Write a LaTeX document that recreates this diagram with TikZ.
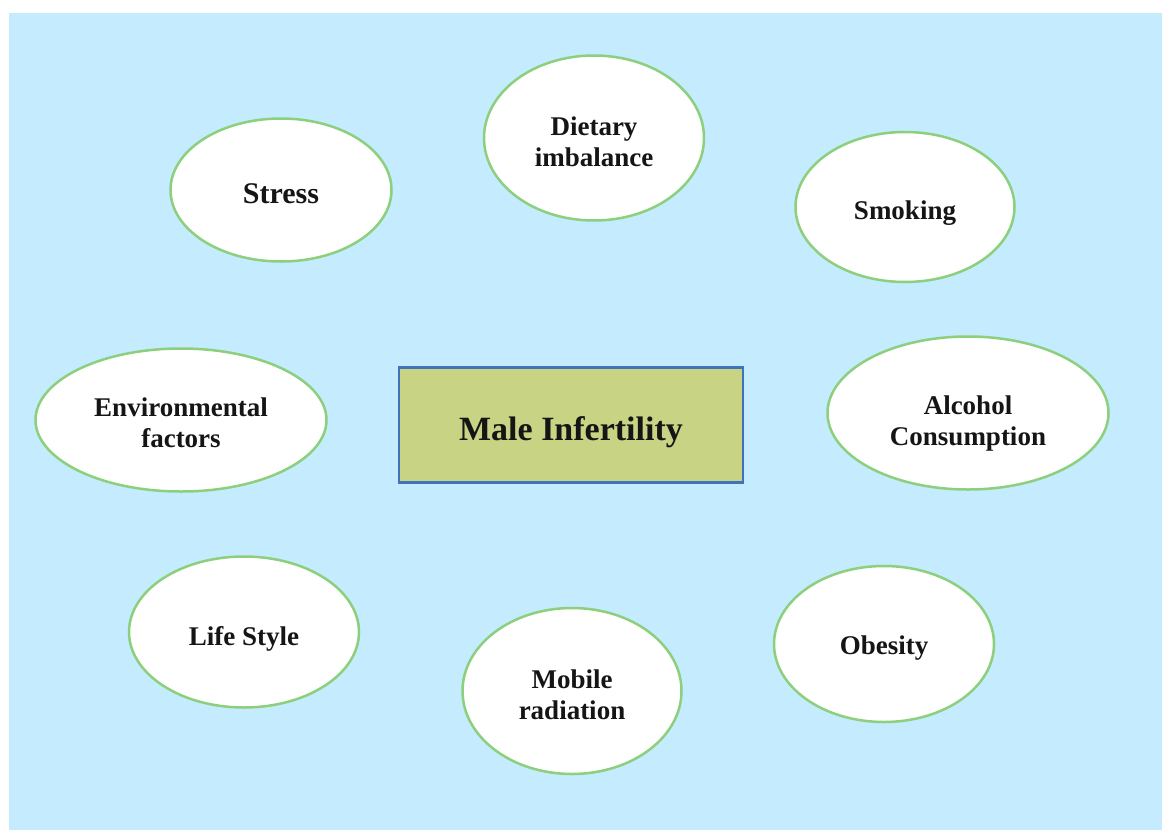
\documentclass[tikz,border=0pt]{standalone}
\usepackage{fontspec}
\setmainfont{Liberation Serif}
\usepackage{xcolor}
\usetikzlibrary{shapes.geometric,positioning}
\definecolor{skybg}{HTML}{C4ECFE}
\definecolor{leafgreen}{HTML}{8CCF7C}
\definecolor{olivebox}{HTML}{C8D484}
\definecolor{boxblue}{HTML}{3F74BC}
\definecolor{inkdark}{HTML}{151515}
% invisible strut that pushes a label down inside its shape
\newcommand{\dropby}[1]{\rule{0pt}{\dimexpr 0.7em + #1*2\relax}}

\begin{document}
\begin{tikzpicture}[x=1pt, y=-1pt,
    factor/.style={ellipse, draw=leafgreen, fill=white, line width=2.5pt,
        inner sep=0pt, align=center, text=inkdark,
        font=\fontsize{27}{31}\selectfont\bfseries},
    core/.style={rectangle, draw=boxblue, fill=olivebox, line width=2.5pt,
        minimum width=344pt, minimum height=115pt, text=inkdark,
        font=\fontsize{34}{40}\selectfont\bfseries}
]
\useasboundingbox (0,0) rectangle (1162,830);
\fill[skybg] (9,13) rectangle (1162,830);

% centre box
\node[core] (male) at (571,425) {\dropby{7pt}Male Infertility};

% surrounding factors
\node[factor, minimum width=221pt, minimum height=143pt,
      font=\fontsize{30}{34}\selectfont\bfseries] (stress) at (281,190) {\dropby{3pt}Stress};
\node[factor, minimum width=220pt, minimum height=165pt] (diet) at (594,138) {\dropby{4pt}Dietary\\imbalance};
\node[factor, minimum width=219pt, minimum height=150pt] (smoke) at (905,207) {\dropby{6pt}Smoking};
\node[factor, minimum width=291pt, minimum height=143pt] (env) at (181,420) {\dropby{3pt}Environmental\\factors};
\node[factor, minimum width=281pt, minimum height=153pt] (alcohol) at (968,413) {\dropby{10pt}Alcohol\\Consumption};
\node[factor, minimum width=230pt, minimum height=151pt] (life) at (244,632) {\dropby{7pt}Life Style};
\node[factor, minimum width=219pt, minimum height=166pt] (mobile) at (572,691) {\dropby{4pt}Mobile\\radiation};
\node[factor, minimum width=220pt, minimum height=156pt] (obesity) at (884,644) {\dropby{4pt}Obesity};
\end{tikzpicture}
\end{document}
